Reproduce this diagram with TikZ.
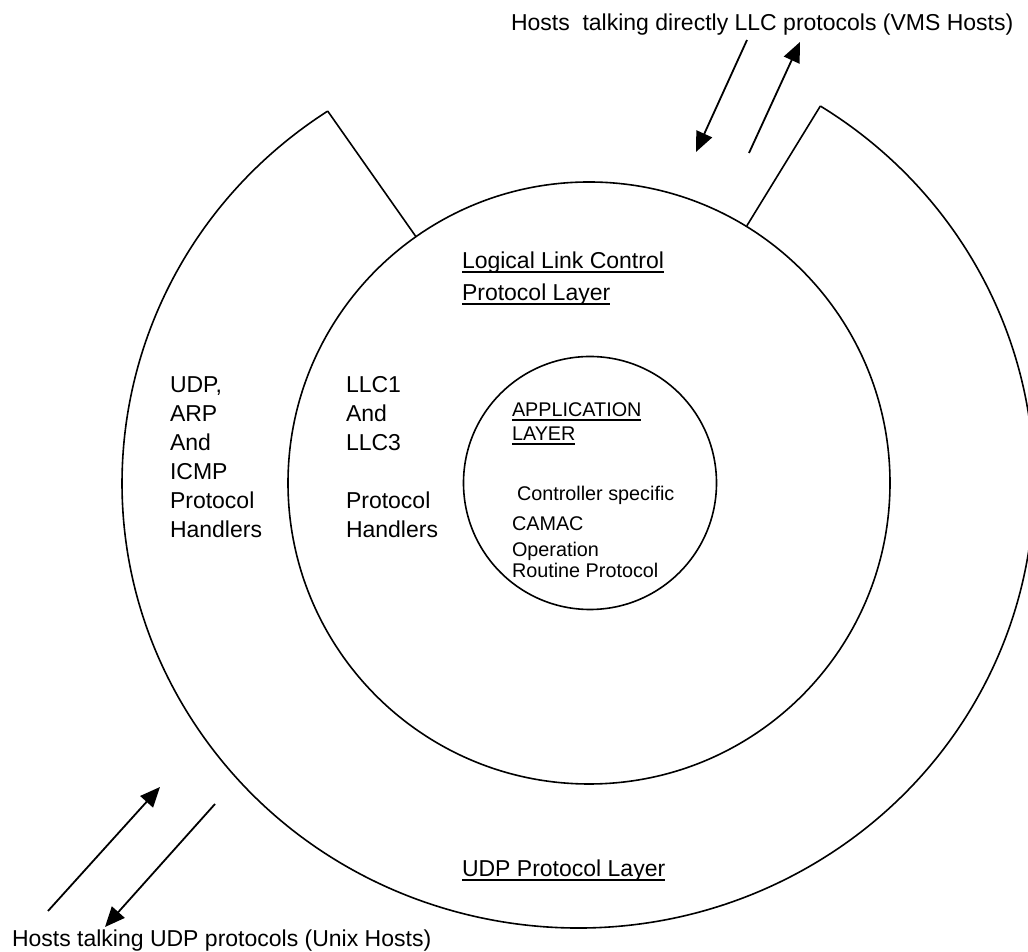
\documentclass[tikz,border=0pt]{standalone}
\usepackage{fontspec}
\setmainfont{Liberation Sans}
\usetikzlibrary{arrows.meta}
\newlength\ulw
\newcommand\myul[1]{\settowidth{\ulw}{#1}\rlap{\rule[-2pt]{\ulw}{0.8pt}}#1}
\newcommand\mainsz{\fontsize{11.5pt}{14pt}\selectfont}
\newcommand\innersz{\fontsize{9.9pt}{12pt}\selectfont}
\tikzset{
  lbl/.style={anchor=base west, inner sep=0pt, outer sep=0pt, font=\mainsz},
  ilbl/.style={anchor=base west, inner sep=0pt, outer sep=0pt, font=\innersz},
  ring/.style={draw, circle, inner sep=0pt, line width=0.8pt},
  edge/.style={line width=0.8pt},
  arr/.style={line width=0.9pt, -{Triangle[length=10pt,width=8.5pt]}},
}
\begin{document}
\begin{tikzpicture}[x=0.5pt,y=0.5pt]
\useasboundingbox (0,0) rectangle (1028,952);
% layers
\node[ring, minimum size=301pt] (mid) at (589,469) {};
\node[ring, minimum size=126.5pt] (app) at (590,469) {};
\coordinate (oL) at (327.7,840.9);
\draw[edge] (oL) arc[start angle=123.3, end angle=417.9, x radius=228pt, y radius=222.5pt] coordinate (oR);
\draw[edge] (oL) -- (mid);
\draw[edge] (oR) -- (mid);
% arrows
\coordinate (a1s) at (747,912); \coordinate (a1e) at (696,800);
\coordinate (a2s) at (749,799); \coordinate (a2e) at (800,910);
\coordinate (a3s) at (48,41);   \coordinate (a3e) at (160,165);
\coordinate (a4s) at (215,148); \coordinate (a4e) at (105,25);
\draw[arr] (a1s) -- (a1e);
\draw[arr] (a2s) -- (a2e);
\draw[arr] (a3s) -- (a3e);
\draw[arr] (a4s) -- (a4e);
% host labels
\node[lbl] (vms) at (511,921) {Hosts\ \ talking directly LLC protocols (VMS Hosts)};
\node[lbl] (unix) at (12,5) {Hosts talking UDP protocols (Unix Hosts)};
% LLC layer title
\node[lbl] (llcA) at (462,683) {\myul{Logical Link Control}};
\node[lbl] (llcB) at (462,651) {\myul{Protocol Layer}};
% UDP layer title
\node[lbl] (udpT) at (462,75) {\myul{UDP Protocol Layer}};
% left column
\node[lbl] (u1) at (170,559) {UDP,};
\node[lbl] (u2) at (170,530) {ARP};
\node[lbl] (u3) at (170,501) {And};
\node[lbl] (u4) at (170,472) {ICMP};
\node[lbl] (u5) at (170,443) {Protocol};
\node[lbl] (u6) at (170,414) {Handlers};
% LLC column
\node[lbl] (l1) at (346,559) {LLC1};
\node[lbl] (l2) at (346,530) {And};
\node[lbl] (l3) at (346,501) {LLC3};
\node[lbl] (l5) at (346,443) {Protocol};
\node[lbl] (l6) at (346,414) {Handlers};
% application layer
\node[ilbl] (p1) at (512,535) {\myul{APPLICATION}};
\node[ilbl] (p2) at (512,511) {\myul{LAYER}};
\node[ilbl] (p3) at (517,451) {Controller specific};
\node[ilbl] (p4) at (512,421) {CAMAC};
\node[ilbl] (p5) at (512,395) {Operation};
\node[ilbl] (p6) at (512,374) {Routine Protocol};
\end{tikzpicture}
\end{document}
